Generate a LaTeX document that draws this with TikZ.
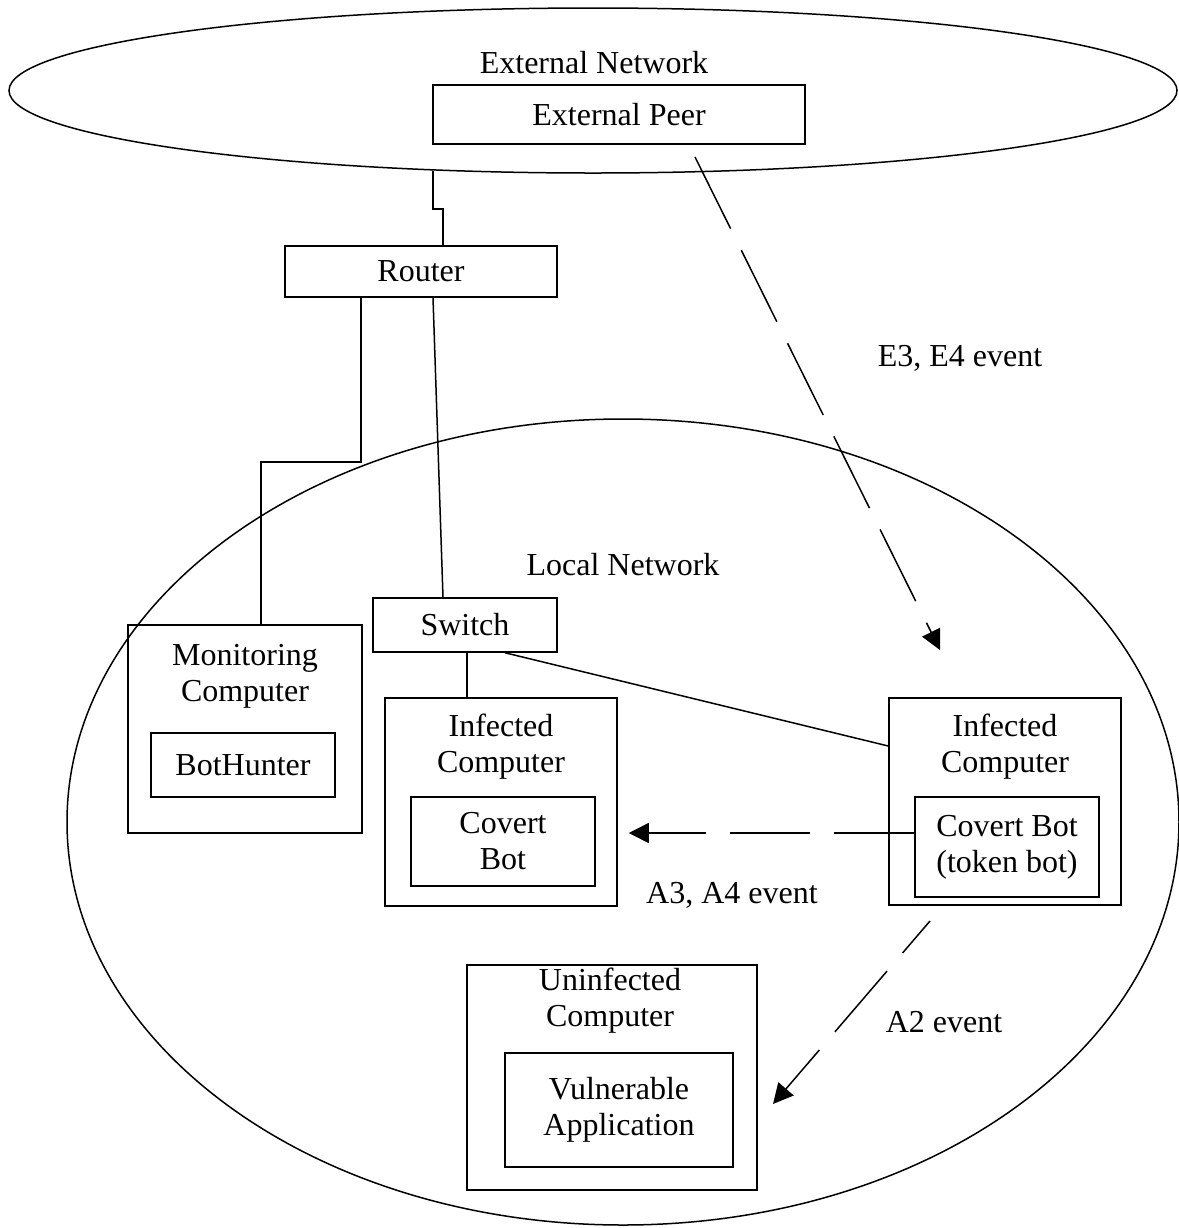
\documentclass[tikz,border=0pt]{standalone}
\usepackage{fontspec}
\setmainfont{Liberation Serif}
\usetikzlibrary{shapes.geometric,arrows.meta}
\begin{document}
\begin{tikzpicture}[x=0.5pt,y=-0.5pt,
  every node/.style={font=\fontsize{16}{18}\selectfont},
  wire/.style={line width=0.75pt},
  box/.style 2 args={draw,line width=0.75pt,inner sep=0pt,align=center,
    minimum width=#1*0.5pt,minimum height=#2*0.5pt},
  net/.style 2 args={draw,ellipse,line width=0.75pt,inner sep=0pt,
    minimum width=#1*0.5pt,minimum height=#2*0.5pt},
  txt/.style={align=center,inner sep=0pt},
  flow/.style={line width=0.75pt,dash pattern=on 40pt off 12pt,
    -{Triangle[length=10pt,width=10pt]}}
]
\useasboundingbox (0,0) rectangle (1179,1228);

% networks
\node[net={1168}{165}] (ext) at (593,90.5) {};
\node[net={1112}{806}] (lan) at (623,822) {};
\node[txt] (extlbl) at (594,63) {External Network};
\node[txt] (lanlbl) at (623,565) {Local Network};

% devices
\node[box={372}{59}] (peer) at (619,114.5) {External Peer};
\node[box={272}{51}] (router) at (421,271.5) {Router};
\node[box={184}{54}] (switch) at (465,625) {Switch};

\node[box={234}{208}] (mon) at (245,729) {};
\node[txt] (montxt) at (245,676) {Monitoring\\Computer};
\node[box={184}{64}] (bh) at (243,765) {BotHunter};

\node[box={232}{208}] (inf1) at (501,802) {};
\node[txt] (inf1txt) at (501,747) {Infected\\Computer};
\node[box={184}{89}] (cb1) at (503,841.5) {Covert\\Bot};

\node[box={232}{207}] (inf2) at (1005,801.5) {};
\node[txt] (inf2txt) at (1005,747) {Infected\\Computer};
\node[box={184}{100}] (cb2) at (1007,847) {Covert Bot\\(token bot)};

\node[box={290}{225}] (unin) at (612,1077.5) {};
\node[txt] (unintxt) at (610,1001) {Uninfected\\Computer};
\node[box={228}{114}] (vuln) at (619,1110) {Vulnerable\\Application};

% event labels
\node[txt] (e3lbl) at (960,358) {E3, E4 event};
\node[txt] (a3lbl) at (732,895) {A3, A4 event};
\node[txt] (a2lbl) at (944,1022) {A2 event};

% cabling
\coordinate (extdrop) at (433,171);
\draw[wire] (extdrop) -- (433,209) -| ([xshift=11pt]router.north);
\draw[wire] ([xshift=-30pt]router.south) -- ++(0,164) -| ([xshift=8pt]mon.north);
\draw[wire] ([xshift=6pt]router.south) -- ([xshift=-11pt]switch.north);
\draw[wire] ([xshift=1pt]switch.south) -- ([xshift=-17pt]inf1.north);
\draw[wire] ([xshift=20pt]switch.south) -- ([yshift=27.75pt]inf2.west);

% events
\coordinate (e3s) at (695,157);
\coordinate (e3e) at (940,650);
\draw[flow] (e3s) -- (e3e);

\coordinate (a3s) at ([yshift=7pt]cb2.west);
\coordinate (a3e) at ([xshift=5.5pt]inf1.east);
\draw[flow] (a3s) -- (a3e |- a3s);

\coordinate (a2s) at (930,921);
\coordinate (a2e) at (773,1104);
\draw[flow,dash phase=19pt] (a2s) -- (a2e);
\end{tikzpicture}
\end{document}
